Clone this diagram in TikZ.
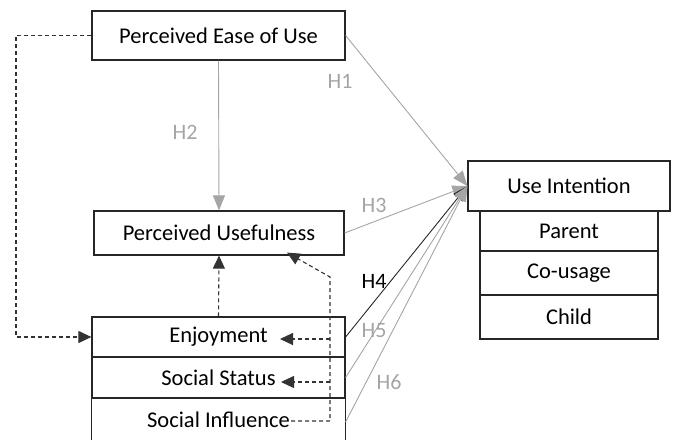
\documentclass[tikz,border=0pt]{standalone}
\usepackage{fontspec}
\setmainfont{Carlito}
\usetikzlibrary{arrows.meta}
\definecolor{hgray}{RGB}{165,165,165}
\begin{document}
\begin{tikzpicture}[x=1pt,y=-1pt]
\tikzstyle{every node}+=[inner sep=0pt]
\tikzstyle{box}=[draw=black!85, line width=1.2pt, font=\fontsize{22.5}{26}\selectfont]
\tikzstyle{hyp}=[draw=hgray, line width=0.9pt, -{Triangle[length=15pt,width=12pt,fill=hgray]}]
\tikzstyle{dashlink}=[draw=black!80, line width=1.1pt, dash pattern=on 4pt off 3pt, -{Triangle[length=13pt,width=12pt]}]
\tikzstyle{hlabel}=[text=hgray, font=\fontsize{22}{26}\selectfont]
\useasboundingbox (0,0) rectangle (676,439);
% constructs
\node [box, minimum width=253, minimum height=49] (peou) at (218.5,35.5) {Perceived Ease of Use};
\node [box, minimum width=250, minimum height=44] (pu) at (219,233) {Perceived Usefulness};
\node [box, minimum width=253, minimum height=40] (enj) at (218.5,337) {Enjoyment};
\node [box, minimum width=253, minimum height=41] (ss) at (218.5,377.5) {Social Status};
\node [box, draw=none, minimum width=253, minimum height=44] (si) at (218.5,420) {Social Influence};
\draw [black!85, line width=1.2pt] (si.south west) |- (si.north east) -- (si.south east);
% use intention
\node [box, minimum width=202, minimum height=50] (ui) at (569,186) {Use Intention};
\node [box, minimum width=178, minimum height=40] (par) at (569,231) {Parent};
\node [box, minimum width=178, minimum height=44] (cou) at (569,273) {Co-usage};
\node [box, minimum width=178, minimum height=44] (chi) at (569,317) {Child};
% hypotheses
\draw [hyp] (peou.east) -- (ui.west);
\draw [hyp] (peou.south) -- (pu.north);
\draw [hyp] (pu.east) -- (ui.west);
\draw [hyp, draw=black!85] (enj.east) -- (ui.west);
\draw [hyp] (ss.east) -- (ui.west);
\draw [hyp] ([yshift=-2]si.east) -- (ui.west);
\node [hlabel] (h1) at (340,81) {H1};
\node [hlabel] (h2) at (185,132) {H2};
\node [hlabel] (h3) at (374,205) {H3};
\node [hlabel, text=black] (h4) at (374,281) {H4};
\node [hlabel] (h5) at (374,331) {H5};
\node [hlabel] (h6) at (389,382) {H6};
% dashed links
\coordinate (lft) at (16,35.5);
\coordinate (siout) at (291,421);
\coordinate (up1) at (330,421);
\coordinate (up2) at (330,277);
\coordinate (enjin) at (280,339);
\coordinate (ssin) at (281,382);
\draw [dashlink] (peou.west) -- (lft) |- (enj.west);
\draw [dashlink] (enj.north) -- (pu.south);
\draw [dashlink] (siout) -- (up1) -- (up2) -- ([xshift=68,yshift=3]pu.south);
\draw [dashlink] (up1 |- enjin) -- (enjin);
\draw [dashlink] (up1 |- ssin) -- (ssin);
\end{tikzpicture}
\end{document}
